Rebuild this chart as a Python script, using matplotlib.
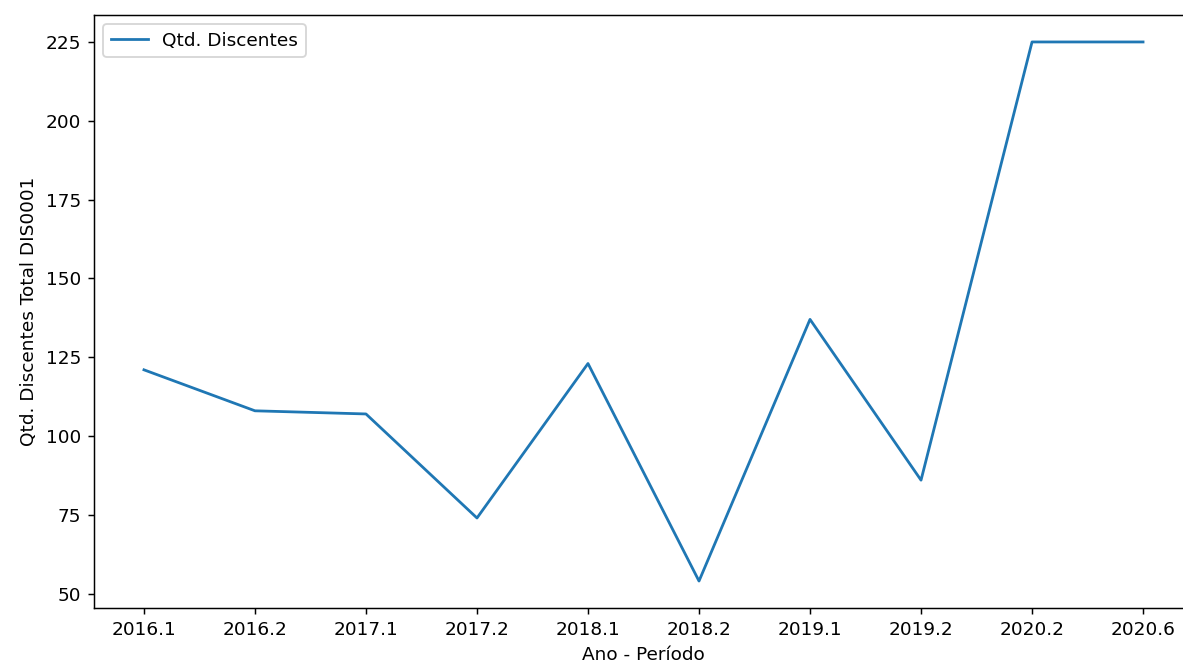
import matplotlib
matplotlib.use("Agg")
import matplotlib.pyplot as plt

periodos = ["2016.1", "2016.2", "2017.1", "2017.2", "2018.1",
            "2018.2", "2019.1", "2019.2", "2020.2", "2020.6"]
qtd_discentes = [121, 108, 107, 74, 123, 54, 137, 86, 225, 225]

# render at a higher dpi so fonts and lines come out scaled like the reference
dpi = 133
fig = plt.figure(figsize=(1183 / dpi, 661 / dpi), dpi=dpi)
ax = fig.add_axes([94 / 1183, 1 - 608 / 661, 1099 / 1183, 593 / 661])

ax.plot(periodos, qtd_discentes, color="#1f77b4", label="Qtd. Discentes")
ax.set_xlabel("Ano - Período")
ax.set_ylabel("Qtd. Discentes Total DIS0001")
ax.legend(loc="upper left")

fig.savefig("out.png", dpi=dpi)
